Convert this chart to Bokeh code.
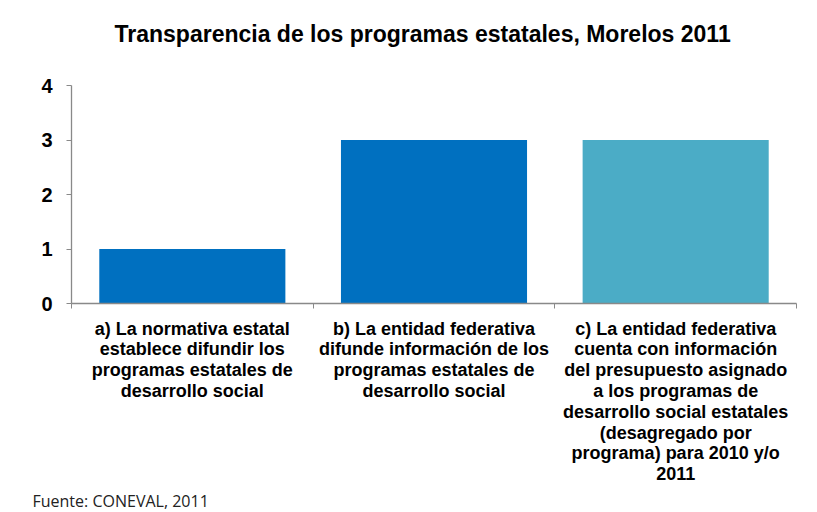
from bokeh.plotting import figure
from bokeh.models import Range1d, FixedTicker, Title
from bokeh.embed import file_html
from bokeh.resources import INLINE

categories = [
    "a) La normativa estatal\nestablece difundir los\nprogramas estatales de\ndesarrollo social",
    "b) La entidad federativa\ndifunde información de los\nprogramas estatales de\ndesarrollo social",
    "c) La entidad federativa\ncuenta con información\ndel presupuesto asignado\na los programas de\ndesarrollo social estatales\n(desagregado por\nprograma) para 2010 y/o\n2011",
]
values = [1, 3, 3]
bar_colors = ["#0070C0", "#0070C0", "#4BACC6"]
y_ticks = [0, 1, 2, 3, 4]
title_text = "Transparencia de los programas estatales, Morelos 2011"
source_text = "Fuente: CONEVAL, 2011"

xs = [i + 0.5 for i in range(len(categories))]

p = figure(frame_width=725, frame_height=218, x_range=Range1d(0, 3), y_range=Range1d(0, 4),
           output_backend="svg", toolbar_location=None,
           min_border_left=71, min_border_right=5, min_border_top=85, min_border_bottom=0)
p.outline_line_color = None
p.xgrid.grid_line_color = None
p.ygrid.grid_line_color = None
p.background_fill_color = "white"
p.border_fill_color = "white"

p.vbar(x=xs, top=values, bottom=0, width=0.77, color=bar_colors, line_color=None)

axis_color = "#898989"
xa = p.xaxis[0]
xa.ticker = FixedTicker(ticks=xs, minor_ticks=[0, 1, 2, 3])
xa.major_label_overrides = {x: c for x, c in zip(xs, categories)}
xa.major_tick_line_color = None
xa.minor_tick_line_color = axis_color
xa.minor_tick_out = 5
xa.minor_tick_in = 0
xa.axis_line_color = axis_color
xa.axis_line_width = 1.3
xa.major_label_text_font = "Liberation Sans"
xa.major_label_text_font_style = "bold"
xa.major_label_text_font_size = "18px"
xa.major_label_text_color = "black"
xa.major_label_text_line_height = 1.04
xa.major_label_standoff = 9
xa.major_label_orientation = "horizontal"

ya = p.yaxis[0]
ya.ticker = FixedTicker(ticks=y_ticks, minor_ticks=[])
ya.axis_line_color = axis_color
ya.axis_line_width = 1.3
ya.major_tick_line_color = axis_color
ya.major_tick_out = 5
ya.major_tick_in = 0
ya.minor_tick_line_color = None
ya.major_label_text_font = "Liberation Sans"
ya.major_label_text_font_style = "bold"
ya.major_label_text_font_size = "20px"
ya.major_label_text_color = "black"
ya.major_label_standoff = 14

# empty spacer between the frame and the title
spacer = Title(text=" ", standoff=36, text_font_size="1px", text_color="white")
p.add_layout(spacer, "above")

t = Title(text=title_text, align="left", offset=43, standoff=0,
          text_font="Liberation Sans", text_font_style="bold", text_font_size="23px",
          text_color="black")
p.add_layout(t, "above")

s = Title(text=source_text, align="left", offset=-39, standoff=0,
          text_font="Open Sans", text_font_style="normal", text_font_size="16px",
          text_color="#222222")
p.add_layout(s, "below")

open("out.html", "w").write(file_html(p, INLINE))
